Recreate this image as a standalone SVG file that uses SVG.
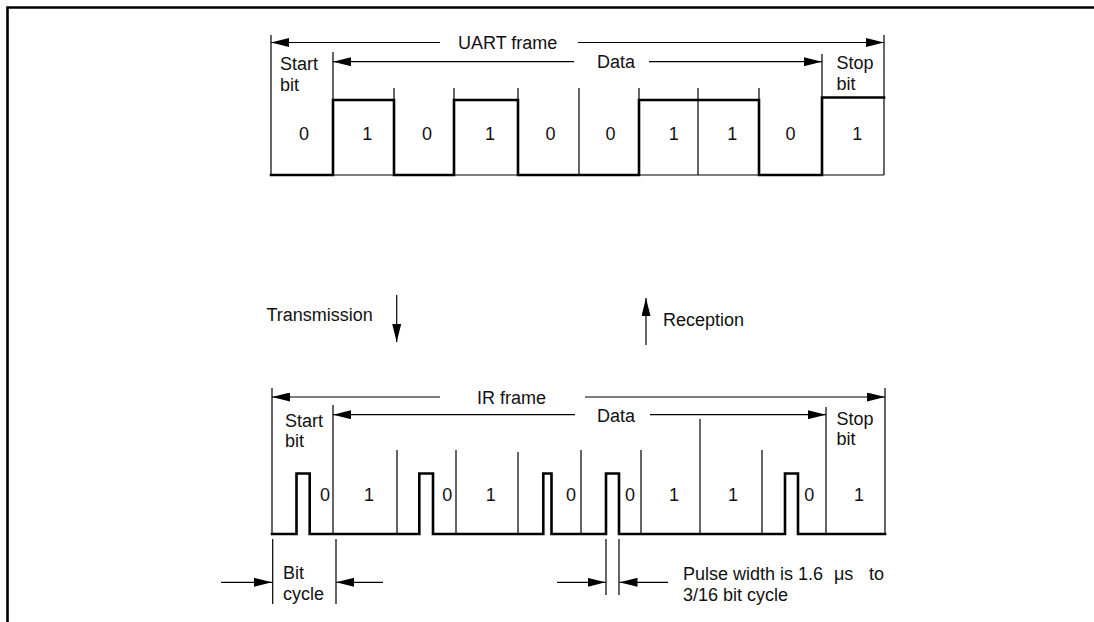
<svg xmlns="http://www.w3.org/2000/svg" width="1094" height="622" viewBox="0 0 1094 622">
<style>
  text { font-family: "Liberation Sans", Arial, sans-serif; font-size: 18px; fill: #111; }
  .mid { text-anchor: middle; }
  .thin { stroke: #000; stroke-width: 1.2; fill: none; }
  .thick { stroke: #000; stroke-width: 2.6; fill: none; stroke-linejoin: miter; stroke-linecap: square; }
  .border { stroke: #000; stroke-width: 2.6; fill: none; }
  .arr { stroke: #000; stroke-width: 1.2; fill: none; marker-end: url(#head); }
</style>
<defs>
  <marker id="head" markerUnits="userSpaceOnUse" markerWidth="18" markerHeight="9" refX="18" refY="4.5" orient="auto" viewBox="0 0 18 9">
    <path d="M0,0 L18,4.5 L0,9 Z" fill="#000"/>
  </marker>
</defs>

<g id="border">
  <path class="border" d="M7.5,622 V7.5 H1094"/>
</g>

<g id="uart-frame">
  <path class="thin" d="M271,35 V175 M884,35 V175 M271,175 H884 M333,52 V175 M822,54 V175 M394,88 V175 M454,88 V175 M518,88 V175 M579,88 V175 M639,88 V175 M698,88 V175 M759,88 V175"/>
  <path class="thick" d="M271,175 H333 V100 H394 V175 H454 V100 H518 V175 H639 V100 H759 V175 H822 V97.5 H884"/>
  <text x="458" y="49">UART frame</text>
  <text x="597" y="67.5">Data</text>
  <text x="280" y="69.5">Start</text>
  <text x="280" y="90.5">bit</text>
  <text x="836.5" y="68.5">Stop</text>
  <text x="836.5" y="90">bit</text>
  <text class="mid" x="304" y="140">0</text>
  <text class="mid" x="367.3" y="140">1</text>
  <text class="mid" x="427" y="140">0</text>
  <text class="mid" x="490" y="140">1</text>
  <text class="mid" x="550.5" y="140">0</text>
  <text class="mid" x="610.5" y="140">0</text>
  <text class="mid" x="673.7" y="140">1</text>
  <text class="mid" x="732.3" y="140">1</text>
  <text class="mid" x="790.5" y="140">0</text>
  <text class="mid" x="857.3" y="140">1</text>
</g>

<g id="transmission">
  <text x="266.5" y="320.5">Transmission</text>
</g>
<g id="reception">
  <text x="663" y="325.5">Reception</text>
</g>

<g id="ir-frame">
  <path class="thin" d="M272,388 V534 M885,388 V534 M333,405 V534 M826,407 V534 M397,450 V534 M456,450 V534 M518,452 V534 M581,450 V534 M641,450 V534 M700,419 V534 M762,450 V534"/>
  <path class="thick" d="M272,534 H296.5 V473.5 H309.7 V534 H419.3 V473.5 H433 V534 H543.3 V473.5 H551.5 V534 H606 V473.5 H619 V534 H785 V473.5 H798 V534 H885"/>
  <text x="477" y="404">IR frame</text>
  <text x="597" y="421.5">Data</text>
  <text x="285" y="426.5">Start</text>
  <text x="285" y="446.5">bit</text>
  <text x="836.5" y="425">Stop</text>
  <text x="836.5" y="445">bit</text>
  <text class="mid" x="325" y="500.5">0</text>
  <text class="mid" x="369" y="500.5">1</text>
  <text class="mid" x="447.3" y="500.5">0</text>
  <text class="mid" x="490.7" y="500.5">1</text>
  <text class="mid" x="571" y="500.5">0</text>
  <text class="mid" x="630" y="500.5">0</text>
  <text class="mid" x="674" y="500.5">1</text>
  <text class="mid" x="733" y="500.5">1</text>
  <text class="mid" x="809.2" y="500.5">0</text>
  <text class="mid" x="859" y="500.5">1</text>
</g>

<g id="bit-cycle">
  <path class="thin" d="M272.7,539 V604 M336,539 V604"/>
  <text x="283" y="578.5">Bit</text>
  <text x="283" y="599.5">cycle</text>
</g>

<g id="pulse-width">
  <path class="thin" d="M606,539 V595 M619,539 V595"/>
  <text x="683" y="579.5">Pulse width is 1.6 <tspan x="834">μs</tspan> <tspan x="869">to</tspan></text>
  <text x="683" y="601">3/16 bit cycle</text>
</g>

<g id="connectors">
  <line class="arr" x1="440" y1="42.5" x2="271" y2="42.5"/>
  <line class="arr" x1="578" y1="42.5" x2="884" y2="42.5"/>
  <line class="arr" x1="574" y1="61.7" x2="333" y2="61.7"/>
  <line class="arr" x1="649" y1="61.7" x2="822" y2="61.7"/>
  <line class="arr" x1="440" y1="397" x2="272" y2="397"/>
  <line class="arr" x1="585" y1="397" x2="885" y2="397"/>
  <line class="arr" x1="575" y1="414.7" x2="333" y2="414.7"/>
  <line class="arr" x1="650" y1="414.7" x2="826" y2="414.7"/>
  <line class="arr" x1="396.7" y1="295" x2="396.7" y2="342"/>
  <line class="arr" x1="646" y1="345" x2="646" y2="298"/>
  <line class="arr" x1="221" y1="582.3" x2="272" y2="582.3"/>
  <line class="arr" x1="383" y1="582.3" x2="336" y2="582.3"/>
  <line class="arr" x1="557" y1="582.3" x2="605.5" y2="582.3"/>
  <line class="arr" x1="668" y1="582.3" x2="619.5" y2="582.3"/>
</g>
</svg>
